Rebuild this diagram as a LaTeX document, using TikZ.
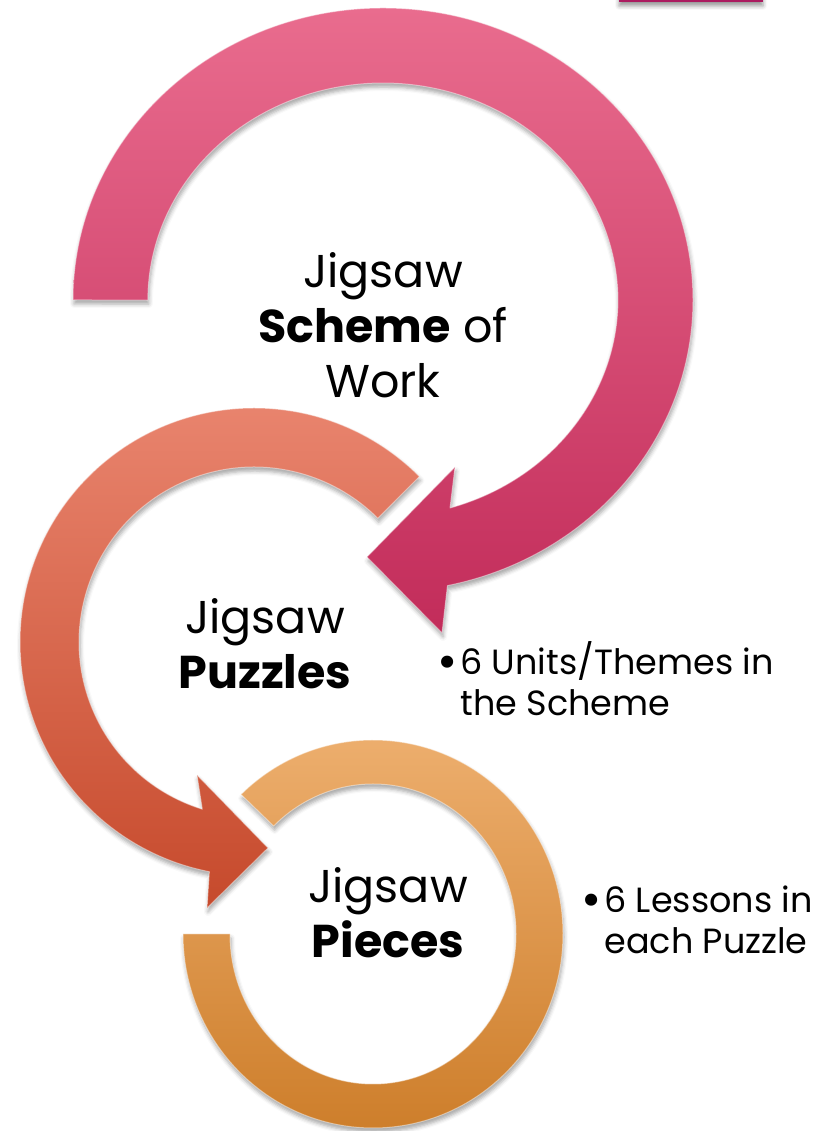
\documentclass[tikz,border=0pt]{standalone}
\usepackage{fontspec}
\usepackage{graphicx}
\setmainfont{Poppins}
\usetikzlibrary{shadows.blur}

\definecolor{schemetop}{RGB}{233,108,142}
\definecolor{schemebot}{RGB}{194,44,90}
\definecolor{puzzletop}{RGB}{234,134,112}
\definecolor{puzzlebot}{RGB}{198,74,44}
\definecolor{piecetop}{RGB}{238,176,112}
\definecolor{piecebot}{RGB}{204,124,40}
\definecolor{barpink}{RGB}{172,28,96}

\newcommand{\bigdot}{\raisebox{-3.5pt}{\scalebox{1.4}{\textbullet}}}

\begin{document}
\begin{tikzpicture}[x=1pt,y=1pt,
  ring/.style={blur shadow={shadow xshift=1pt,shadow yshift=-4pt,shadow blur radius=4pt,shadow opacity=35},
    draw=white,draw opacity=0.45,line width=1pt,line join=round},
  title/.style={font=\fontsize{46}{55}\selectfont,align=center,inner sep=0pt},
  note/.style={font=\fontsize{35}{41}\selectfont,inner sep=0pt,anchor=base west}]
  \useasboundingbox (0,0) rectangle (838,1131);

  % bar at the top edge
  \path[fill=barpink,blur shadow={shadow xshift=0pt,shadow yshift=-4pt,shadow blur radius=4pt,shadow opacity=40}]
    (619,1129) rectangle (763,1140);

  \coordinate (scheme) at (383,831);
  \coordinate (puzzle) at (254,489);
  \coordinate (piece) at (373,197);

  % Pieces ring (no head)
  \path[ring,top color=piecetop,bottom color=piecebot]
    (piece) ++(134:190 and 194) arc[start angle=134,end angle=-180,x radius=190,y radius=194]
    -- (230,197) arc[start angle=-180,end angle=134,x radius=143,y radius=150] -- cycle;

  % Puzzles arrow, anticlockwise
  \path[ring,top color=puzzletop,bottom color=puzzlebot]
    (puzzle) ++(45:234) arc[start angle=45,end angle=259,radius=234]
    -- (207,223) -- (268,283) -- (197,356) -- (202.3,321.8)
    arc[start angle=252.8,end angle=45,radius=175] -- cycle;

  % Scheme arrow, clockwise
  \path[ring,top color=schemetop,bottom color=schemebot]
    (scheme) ++(180:310 and 292) arc[start angle=180,end angle=-78,x radius=310,y radius=292]
    -- (442,498) -- (367,574) -- (455,664) -- (450,623)
    arc[start angle=-73.4,end angle=180,x radius=235,y radius=217] -- cycle;

  % labels
  \node[title] (schemetxt) at (383,806) {Jigsaw\\\textbf{Scheme} of\\Work};
  \node[title] (puzzletxt) at (265,487) {Jigsaw\\\textbf{Puzzles}};
  \node[title] (piecetxt) at (388,218) {Jigsaw\\\textbf{Pieces}};

  \node[note] (unitnote) at (437,456)
    {\begin{tabular}[t]{@{}l@{\hspace{3pt}}l@{}}\bigdot & 6 Units/Themes in\\ & the Scheme\end{tabular}};
  \node[note] (lessonnote) at (581,218)
    {\begin{tabular}[t]{@{}l@{\hspace{3pt}}l@{}}\bigdot & 6 Lessons in\\ & each Puzzle\end{tabular}};
\end{tikzpicture}
\end{document}
